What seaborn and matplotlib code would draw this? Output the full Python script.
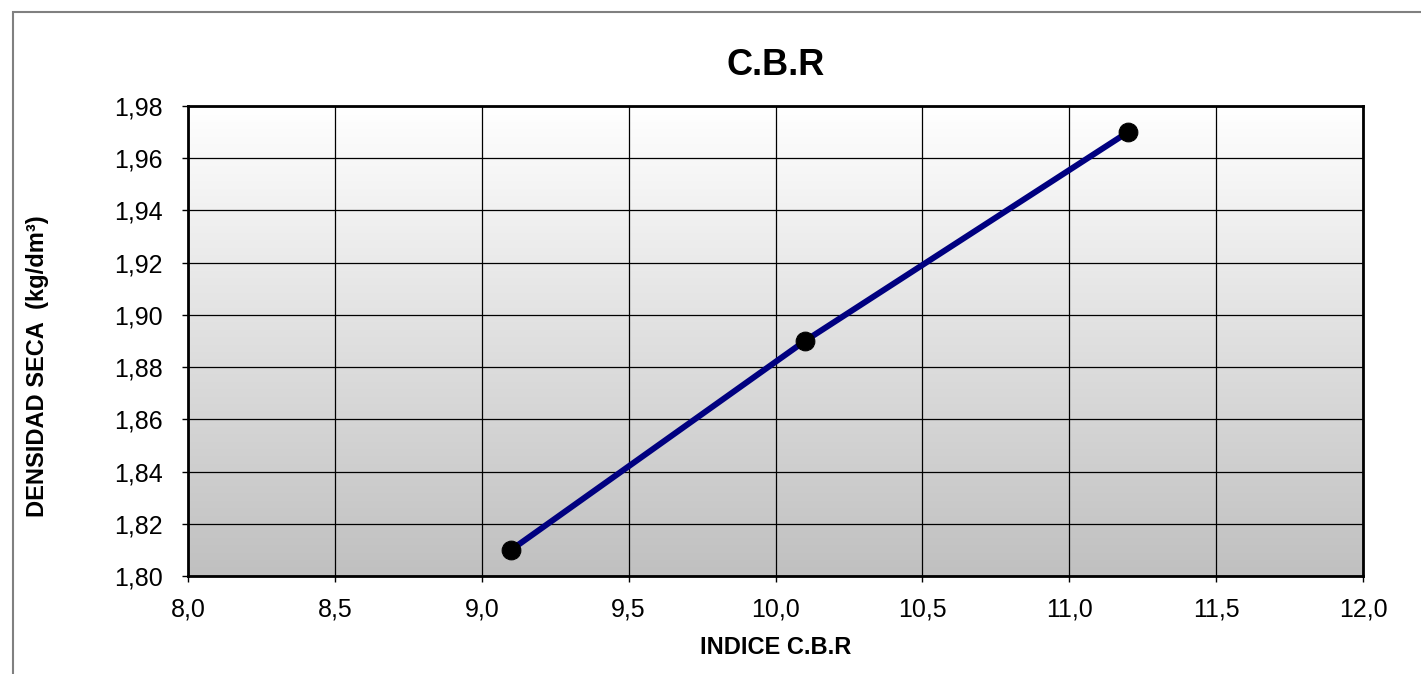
import numpy as np
import pandas as pd
import matplotlib
matplotlib.use('Agg')
import matplotlib.pyplot as plt
from matplotlib.colors import LinearSegmentedColormap
from matplotlib.patches import Rectangle
import seaborn as sns

# data
indice_cbr = [9.1, 10.1, 11.2]
densidad_seca = [1.81, 1.89, 1.97]
x_ticks = [8.0, 8.5, 9.0, 9.5, 10.0, 10.5, 11.0, 11.5, 12.0]
x_labels = ['8,0', '8,5', '9,0', '9,5', '10,0', '10,5', '11,0', '11,5', '12,0']
y_ticks = [1.80, 1.82, 1.84, 1.86, 1.88, 1.90, 1.92, 1.94, 1.96, 1.98]
y_labels = ['1,80', '1,82', '1,84', '1,86', '1,88', '1,90', '1,92', '1,94', '1,96', '1,98']

df = pd.DataFrame({'indice': indice_cbr, 'densidad': densidad_seca})

sns.set_style('white')
plt.rcParams['font.family'] = ['Liberation Sans', 'DejaVu Sans']
plt.rcParams['text.color'] = 'black'
plt.rcParams['axes.labelcolor'] = 'black'
plt.rcParams['xtick.color'] = 'black'
plt.rcParams['ytick.color'] = 'black'

fig = plt.figure(figsize=(14.21, 6.74), dpi=100)
ax = fig.add_axes([188 / 1421, 1 - 576 / 674, (1363 - 188) / 1421, (576 - 106) / 674])

# outer chart border (cut at right/bottom like the reference)
fig.patches.append(Rectangle((13.5 / 1421, -0.1), 1.2, 1 - 11.5 / 674 + 0.1,
                             transform=fig.transFigure, fill=False,
                             edgecolor='#808080', linewidth=1.5, zorder=0))

# gradient background
grad = np.linspace(0, 1, 256).reshape(-1, 1)
cmap = LinearSegmentedColormap.from_list('g', ['#ffffff', '#c0c0c0'])
ax.imshow(grad, cmap=cmap, extent=[0, 1, 0, 1], transform=ax.transAxes,
          aspect='auto', zorder=0, origin='upper')

sns.lineplot(data=df, x='indice', y='densidad', ax=ax, color='#000080', linewidth=4.3,
             marker='o', markersize=13.5, markerfacecolor='black', markeredgecolor='black', zorder=3)

ax.set_xlim(8.0, 12.0)
ax.set_ylim(1.80, 1.98)
ax.set_xticks(x_ticks)
ax.set_xticklabels(x_labels, fontsize=18)
ax.set_yticks(y_ticks)
ax.set_yticklabels(y_labels, fontsize=18)
ax.tick_params(axis='both', direction='out', length=4.5, width=1, color='black',
               labelcolor='black', bottom=True, left=True)
ax.tick_params(axis='y', pad=13.5)
ax.tick_params(axis='x', pad=11)
ax.grid(True, color='black', linewidth=0.9)
ax.set_axisbelow(False)
for sp in ax.spines.values():
    sp.set_visible(True)
    sp.set_color('black')
    sp.set_linewidth(2)

ax.set_title('C.B.R', fontsize=26, fontweight='bold', pad=22, color='black')
ax.set_xlabel('INDICE C.B.R', fontsize=17, fontweight='bold')
ax.set_ylabel('DENSIDAD SECA  (kg/dm³)', fontsize=17, fontweight='bold')
ax.xaxis.set_label_coords(0.5, (576 - 636) / 470)
ax.yaxis.set_label_coords((49 - 188) / 1175, (576 - 366) / 470)

fig.savefig('out.png', dpi=100)
